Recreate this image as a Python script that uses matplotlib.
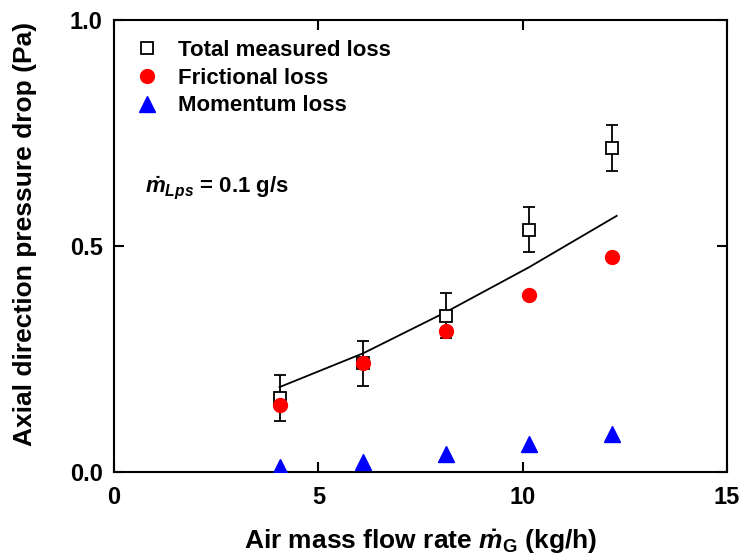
import matplotlib
matplotlib.use('Agg')
import matplotlib.pyplot as plt

plt.rcParams.update({
    'font.family': 'Liberation Sans',
    'font.weight': 'bold',
    'mathtext.fontset': 'custom',
    'mathtext.rm': 'Liberation Sans:bold',
    'mathtext.it': 'Liberation Sans:italic:bold',
    'mathtext.bf': 'Liberation Sans:bold',
    'axes.linewidth': 1.5,
})

# air mass flow rate (kg/h)
flow = [4.05, 6.1, 8.12, 10.15, 12.18]
total_loss = [0.164, 0.241, 0.346, 0.536, 0.717]
total_err = [0.05, 0.05, 0.05, 0.05, 0.05]
friction_loss = [0.149, 0.241, 0.313, 0.391, 0.477]
momentum_loss = [0.012, 0.023, 0.039, 0.062, 0.085]

# model prediction curve
model_x = [4.05, 6.1, 8.12, 10.15, 12.3]
model_y = [0.188, 0.263, 0.354, 0.453, 0.567]

fig = plt.figure(figsize=(7.44, 5.6), dpi=100)
ax = fig.add_axes([0.1532, 0.157, 0.824, 0.807])

ax.plot(model_x, model_y, color='black', lw=1.3, zorder=2)
ax.errorbar(flow, total_loss, yerr=total_err, fmt='none', ecolor='black',
            elinewidth=1.3, capsize=4, capthick=1.3, zorder=3)
ax.plot(flow, total_loss, 's', mfc='white', mec='black', mew=1.3, ms=8,
        label='Total measured loss', zorder=3)
ax.plot(flow, friction_loss, 'o', color='red', ms=10, label='Frictional loss', zorder=4)
ax.plot(flow, momentum_loss, '^', color='blue', ms=11, label='Momentum loss', zorder=4)

ax.set_xlim(0, 15)
ax.set_ylim(0, 1.0)
ax.set_xticks([0, 5, 10, 15])
ax.set_yticks([0.0, 0.5, 1.0])
ax.set_yticklabels(['0.0', '0.5', '1.0'])
ax.tick_params(direction='in', length=7, width=1.5, labelsize=17,
               top=True, right=True, pad=8)
ax.tick_params(axis='x', pad=10)

ax.set_xlabel(r'Air mass flow rate $\dot{m}_\mathrm{G}$ (kg/h)', fontsize=19,
              fontweight='bold', labelpad=13)
ax.set_ylabel('Axial direction pressure drop (Pa)', fontsize=19,
              fontweight='bold')
ax.yaxis.set_label_coords(-0.125, 0.528)

ax.text(0.76, 0.618, r'$\dot{m}_{Lps}$ = 0.1 g/s', fontsize=16, fontweight='bold')

ax.legend(loc='upper left', frameon=False, fontsize=16,
          handletextpad=0.8, labelspacing=0.3, borderaxespad=0.4,
          handlelength=1.2, borderpad=0.5)

fig.savefig('out.png', dpi=100)
